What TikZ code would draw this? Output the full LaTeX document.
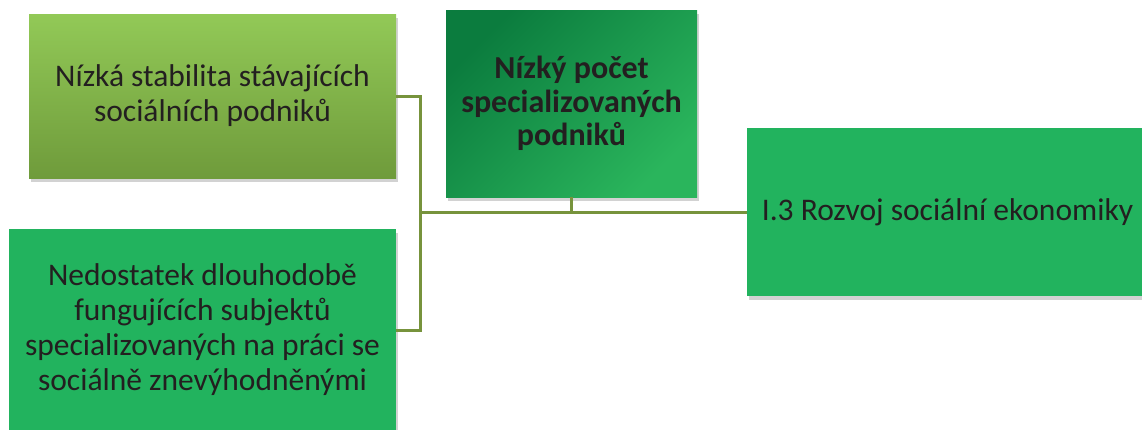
\documentclass[tikz,border=0pt]{standalone}
\usepackage{fontspec}
\setmainfont{Carlito}
\usepackage{xcolor}
\usetikzlibrary{calc,shadows}
\definecolor{olivetop}{HTML}{92C957}
\definecolor{olivebot}{HTML}{6F9B3B}
\definecolor{darkgreen}{HTML}{0B7C3E}
\definecolor{lightgreen}{HTML}{2AB55C}
\definecolor{plaingreen}{HTML}{22B35E}
\definecolor{linkcol}{HTML}{77933C}
\definecolor{inkcol}{HTML}{231F20}
\tikzset{>=latex}
\tikzset{box/.style={rectangle,inner sep=0pt,align=center,text=inkcol,font=\fontsize{31.5}{35}\selectfont,
    drop shadow={shadow xshift=2pt,shadow yshift=-4pt,opacity=0.25,fill=black!70}}}
\tikzset{link/.style={draw=linkcol,line width=3pt}}

\begin{document}
\begin{tikzpicture}[x=1pt,y=-1pt]
  \useasboundingbox (0,0) rectangle (1142,429);
  % Boxes
  \node[box,top color=olivetop,bottom color=olivebot,minimum width=367pt,minimum height=164pt] (stab) at (212.5,96) {Nízká stabilita stávajících\\sociálních podniků};
  \node[box,shading=axis,top color=darkgreen,bottom color=lightgreen,shading angle=45,minimum width=251pt,minimum height=187pt,font=\fontsize{32}{33.5}\selectfont\bfseries] (pocet) at (571.5,103.5) {Nízký počet\\specializovaných\\podniků};
  \node[box,fill=plaingreen,minimum width=401pt,minimum height=168pt] (rozvoj) at (947.5,212) {I.3 Rozvoj sociální ekonomiky};
  \node[box,fill=plaingreen,minimum width=387pt,minimum height=202pt] (nedost) at (202.5,330) {Nedostatek dlouhodobě\\fungujících subjektů\\specializovaných na práci se\\sociálně znevýhodněnými};

  % Lines
  \coordinate (hub) at (420,212);
  \draw[link] (stab.east) -| (hub) |- (nedost.east);
  \draw[link] (hub) -- (rozvoj.west);
  \draw[link] (pocet.south) -- (pocet.south |- hub);
\end{tikzpicture}
\end{document}
